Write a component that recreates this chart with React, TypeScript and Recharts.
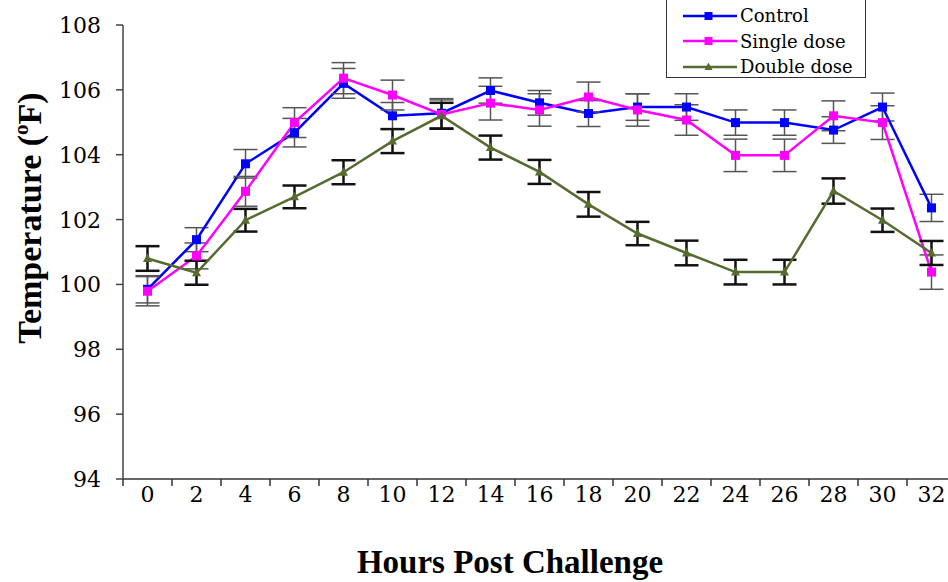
import React from 'react';
import { LineChart, Line, XAxis, YAxis, ErrorBar, Legend } from 'recharts';

const hours = [0, 2, 4, 6, 8, 10, 12, 14, 16, 18, 20, 22, 24, 26, 28, 30, 32];
const yTicks = [94, 96, 98, 100, 102, 104, 106, 108];

const control = [99.85, 101.38, 103.72, 104.68, 106.2, 105.2, 105.28, 105.98, 105.6, 105.27, 105.47, 105.47, 104.99, 104.99, 104.76, 105.47, 102.36];
const controlErr = [0.42, 0.37, 0.44, 0.44, 0.46, 0.41, 0.45, 0.39, 0.38, 0.4, 0.41, 0.41, 0.39, 0.39, 0.41, 0.43, 0.42];

const single = [99.79, 100.88, 102.87, 104.99, 106.36, 105.84, 105.24, 105.59, 105.38, 105.78, 105.38, 105.07, 103.98, 103.98, 105.2, 104.99, 100.38];
const singleErr = [0.45, 0.4, 0.46, 0.46, 0.48, 0.46, 0.45, 0.52, 0.5, 0.46, 0.5, 0.47, 0.5, 0.5, 0.46, 0.52, 0.53];

const double = [100.8, 100.36, 101.98, 102.7, 103.46, 104.42, 105.2, 104.22, 103.47, 102.47, 101.57, 100.97, 100.38, 100.38, 102.88, 101.98, 100.97];
const doubleErr = [0.38, 0.37, 0.35, 0.35, 0.37, 0.37, 0.4, 0.37, 0.37, 0.38, 0.36, 0.38, 0.38, 0.38, 0.39, 0.36, 0.37];

const data = hours.map((h, i) => ({
  hour: h,
  control: control[i],
  controlErr: controlErr[i],
  single: single[i],
  singleErr: singleErr[i],
  double: double[i],
  doubleErr: doubleErr[i],
}));

// label ticks at the even hours, small marks between them
const xTicks = [...hours.flatMap(h => [h - 1, h]), hours[hours.length - 1] + 1];

const BOLD_FONT = 'Liberation Serif';
const FONT = 'DejaVu Serif';

const BLUE = '#0000ff';
const MAGENTA = '#ff00ff';
const OLIVE = '#566b2f';

function HourTick(props: any) {
  const { x, y, payload } = props;
  const v = payload.value;
  if (Math.abs(v % 2) === 1) {
    return <line x1={x} x2={x} y1={y} y2={y + 7} stroke="#333" strokeWidth={1.5} />;
  }
  return (
    <text x={x} y={y + 23} textAnchor="middle" style={{ fontSize: 22, fontFamily: FONT }} fill="#000">
      {v}
    </text>
  );
}

function YTick(props: any) {
  const { x, y, payload } = props;
  return (
    <text x={x} y={y + 8} textAnchor="end" style={{ fontSize: 22, fontFamily: FONT }} fill="#000">
      {payload.value}
    </text>
  );
}

function squareDot(color: string) {
  return (p: any) => (
    <rect key={`sq-${p.index}`} x={p.cx - 4.5} y={p.cy - 4.5} width={9} height={9} fill={color} />
  );
}

function triangleDot(color: string) {
  return (p: any) => (
    <polygon
      key={`tr-${p.index}`}
      points={`${p.cx},${p.cy - 5} ${p.cx - 4.5},${p.cy + 3.5} ${p.cx + 4.5},${p.cy + 3.5}`}
      fill={color}
    />
  );
}

const legendItems = [
  { name: 'Control', color: BLUE, shape: 'square' },
  { name: 'Single dose', color: MAGENTA, shape: 'square' },
  { name: 'Double dose', color: OLIVE, shape: 'triangle' },
];

function LegendBox() {
  return (
    <div
      style={{
        width: 200,
        height: 78,
        border: '1.5px solid #333',
        borderTop: 'none',
        background: '#fff',
        boxSizing: 'border-box',
        paddingTop: 3,
        fontFamily: FONT,
      }}
    >
      {legendItems.map(it => (
        <div key={it.name} style={{ display: 'flex', alignItems: 'center', height: 25.5 }}>
          <svg width={73} height={14} style={{ flex: 'none' }}>
            <line x1={16} x2={70} y1={7} y2={7} stroke={it.color} strokeWidth={2.5} />
            {it.shape === 'square' ? (
              <rect x={37.5} y={3} width={8} height={8} fill={it.color} />
            ) : (
              <polygon points="41.5,2.5 37.5,10 45.5,10" fill={it.color} />
            )}
          </svg>
          <span style={{ fontSize: 18, color: '#000', whiteSpace: 'nowrap' }}>{it.name}</span>
        </div>
      ))}
    </div>
  );
}

function YTitle() {
  return (
    <text
      transform="translate(41, 218) rotate(-90)"
      textAnchor="middle"
      style={{ fontSize: 34, fontWeight: 'bold', fontFamily: BOLD_FONT }}
      fill="#000"
    >
      Temperature (<tspan fontSize={21} dy={-13}>o</tspan>
      <tspan dy={13}>F)</tspan>
    </text>
  );
}

function XTitle() {
  return (
    <text x={510} y={573} textAnchor="middle" style={{ fontSize: 33, fontWeight: 'bold', fontFamily: BOLD_FONT }} fill="#000">
      Hours Post Challenge
    </text>
  );
}

export default function App() {
  return (
    <div style={{ position: 'absolute', left: 0, top: 0, width: 948, height: 582, overflow: 'hidden', background: '#fff' }}>
      <LineChart width={960} height={582} data={data} margin={{ top: 25, right: 4, bottom: 0, left: 0 }}>
        <XAxis
          dataKey="hour"
          type="number"
          domain={[-1, 33]}
          ticks={xTicks}
          interval={0}
          tickSize={0}
          tickMargin={0}
          tickLine={false}
          tick={<HourTick />}
          axisLine={{ stroke: '#333', strokeWidth: 1.5 }}
          height={103}
          label={<XTitle />}
        />
        <YAxis
          type="number"
          domain={[94, 108]}
          ticks={yTicks}
          interval={0}
          width={123}
          tickSize={7}
          tickMargin={15}
          tickLine={{ stroke: '#444', strokeWidth: 1.5 }}
          axisLine={{ stroke: '#444', strokeWidth: 1.5 }}
          tick={<YTick />}
          label={<YTitle />}
        />
        <Legend
          layout="vertical"
          align="center"
          verticalAlign="middle"
          content={<LegendBox />}
          wrapperStyle={{ position: 'absolute', left: 666, top: 0, width: 200 }}
        />
        <Line
          dataKey="control"
          name="Control"
          stroke={BLUE}
          strokeWidth={2.5}
          dot={squareDot(BLUE)}
          activeDot={false}
          isAnimationActive={false}
        >
          <ErrorBar dataKey="controlErr" width={12} stroke="#555" strokeWidth={1.5} direction="y" isAnimationActive={false} />
        </Line>
        <Line
          dataKey="single"
          name="Single dose"
          stroke={MAGENTA}
          strokeWidth={2.5}
          dot={squareDot(MAGENTA)}
          activeDot={false}
          isAnimationActive={false}
        >
          <ErrorBar dataKey="singleErr" width={12} stroke="#555" strokeWidth={1.5} direction="y" isAnimationActive={false} />
        </Line>
        <Line
          dataKey="double"
          name="Double dose"
          stroke={OLIVE}
          strokeWidth={2.5}
          dot={triangleDot(OLIVE)}
          activeDot={false}
          isAnimationActive={false}
        >
          <ErrorBar dataKey="doubleErr" width={12} stroke="#111" strokeWidth={2.5} direction="y" isAnimationActive={false} />
        </Line>
      </LineChart>
    </div>
  );
}
